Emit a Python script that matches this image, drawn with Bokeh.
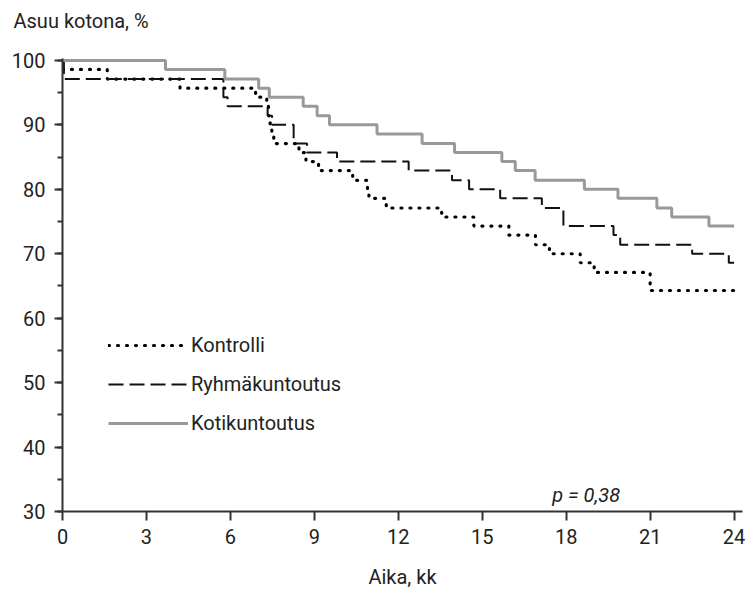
from bokeh.plotting import figure
from bokeh.models import Range1d, SingleIntervalTicker, Legend, LegendItem, Label, Title
from bokeh.embed import file_html
from bokeh.resources import INLINE

# ---- data ----
series_names = ["Kontrolli", "Ryhmäkuntoutus", "Kotikuntoutus"]

kontrolli_t = [0, 0.02, 1.6, 4.2, 6.9, 7.3, 7.36, 7.42, 7.48, 7.55, 8.45, 8.7, 9.15,
               10.37, 10.9, 10.95, 11.57, 13.55, 14.7, 15.95, 16.9, 17.4, 18.5, 19.0, 21.0]
kontrolli_v = [100, 98.6, 97.1, 95.7, 94.3, 92.9, 91.4, 90.0, 88.6, 87.1, 85.7, 84.3, 82.9,
               81.4, 80.0, 78.6, 77.1, 75.7, 74.3, 72.9, 71.4, 70.0, 68.6, 67.1, 64.3]

ryhma_t = [0, 0.05, 5.75, 5.9, 7.33, 7.49, 8.26, 8.74, 9.81, 12.37, 13.92, 14.53,
           15.64, 17.13, 17.9, 19.69, 19.93, 22.5, 23.81]
ryhma_v = [100, 97.1, 94.3, 92.9, 91.4, 90.0, 87.1, 85.7, 84.3, 82.9, 81.4, 80.0,
           78.6, 77.1, 74.3, 72.9, 71.4, 70.0, 68.6]

koti_t = [0, 3.68, 5.8, 7.01, 7.39, 8.6, 9.1, 9.54, 11.24, 12.85, 14.01, 15.7,
          16.18, 16.89, 18.65, 19.85, 21.24, 21.77, 23.1]
koti_v = [100, 98.6, 97.1, 95.7, 94.3, 92.9, 91.4, 90.0, 88.6, 87.1, 85.7, 84.3,
          82.9, 81.4, 80.0, 78.6, 77.1, 75.7, 74.3]

end_time = 24
x_ticks_interval = 3
y_ticks_interval = 10
title_text = "Asuu kotona, %"
x_label = "Aika, kk"
p_text = "p = 0,38"
p_pos = (17.5, 32.5)

FONT = "Roboto"
FS = "20px"
AX = "#333333"

p = figure(width=747, height=595, output_backend="svg", toolbar_location=None,
           x_range=Range1d(0, 24.3), y_range=Range1d(30, 100.3),
           min_border_left=62, min_border_right=5, min_border_top=58, min_border_bottom=84)

p.xgrid.visible = False
p.ygrid.visible = False
p.outline_line_color = None
p.background_fill_color = "white"
p.border_fill_color = "white"
p.title.text = ""

# spacer panel between the frame and the axis title
p.add_layout(Title(text=" ", text_font_size="2px", standoff=22), "above")
p.add_layout(Title(text=title_text, text_font=FONT, text_font_size=FS,
                   text_font_style="normal", text_color="#222222",
                   align="left", offset=-49, standoff=0), "above")

p.xaxis.ticker = SingleIntervalTicker(interval=x_ticks_interval, num_minor_ticks=0)
p.yaxis.ticker = SingleIntervalTicker(interval=y_ticks_interval, num_minor_ticks=2)

for ax in (p.xaxis[0], p.yaxis[0]):
    ax.axis_line_color = AX
    ax.axis_line_width = 2
    ax.major_tick_line_color = AX
    ax.major_tick_line_width = 2
    ax.minor_tick_line_color = AX
    ax.minor_tick_line_width = 2
    ax.major_tick_in = 0
    ax.major_tick_out = 9
    ax.minor_tick_in = 0
    ax.minor_tick_out = 5
    ax.major_label_text_font = FONT
    ax.major_label_text_font_size = FS
    ax.major_label_text_color = "#222222"

p.yaxis.major_tick_out = 8
p.yaxis.major_label_standoff = 9
p.xaxis.major_label_standoff = 8
p.xaxis.axis_label = x_label
p.xaxis.axis_label_text_font = FONT
p.xaxis.axis_label_text_font_size = FS
p.xaxis.axis_label_text_font_style = "normal"
p.xaxis.axis_label_text_color = "#222222"
p.xaxis.axis_label_standoff = 18

r_k = p.step(kontrolli_t + [end_time], kontrolli_v + [kontrolli_v[-1]], mode="after",
             line_color="black", line_width=3.2, line_dash="1 8", line_cap="round")
r_r = p.step(ryhma_t + [end_time], ryhma_v + [ryhma_v[-1]], mode="after",
             line_color="#111111", line_width=2, line_dash="15 6")
r_h = p.step(koti_t + [end_time], koti_v + [koti_v[-1]], mode="after",
             line_color="#999999", line_width=3)

legend = Legend(items=[LegendItem(label=series_names[0], renderers=[r_k]),
                       LegendItem(label=series_names[1], renderers=[r_r]),
                       LegendItem(label=series_names[2], renderers=[r_h])],
                location=(46, 76), orientation="vertical",
                glyph_width=80, glyph_height=24, label_height=24, label_standoff=3,
                spacing=15, padding=0, margin=0,
                border_line_color=None, background_fill_alpha=0,
                label_text_font=FONT, label_text_font_size=FS, label_text_color="#222222")
p.add_layout(legend)

p.add_layout(Label(x=p_pos[0], y=p_pos[1], text=p_text, text_font=FONT,
                   text_font_size=FS, text_font_style="italic", text_color="#222222",
                   text_baseline="middle", text_align="left"))

open("out.html", "w").write(file_html(p, INLINE))
